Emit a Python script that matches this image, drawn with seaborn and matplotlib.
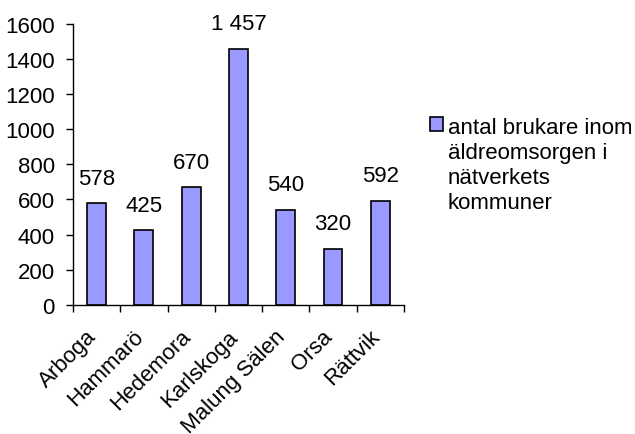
import pandas as pd
import seaborn as sns
import matplotlib.pyplot as plt
from matplotlib.transforms import ScaledTranslation

kommuner = ["Arboga", "Hammarö", "Hedemora", "Karlskoga", "Malung Sälen", "Orsa", "Rättvik"]
brukare = [578, 425, 670, 1457, 540, 320, 592]
serie_namn = "antal brukare inom\näldreomsorgen i\nnätverkets\nkommuner"

df = pd.DataFrame({"kommun": kommuner, "antal": brukare})

sns.set_style("white")
plt.rcParams["font.family"] = ["Liberation Sans", "DejaVu Sans"]
plt.rcParams["text.color"] = "black"
plt.rcParams["xtick.color"] = "black"
plt.rcParams["ytick.color"] = "black"

fs = 16
fig = plt.figure(figsize=(6.35, 4.35), dpi=100)
ax = fig.add_axes([0.115, 0.297, 0.521, 0.646])

sns.barplot(data=df, x="kommun", y="antal", color="#9999FF", edgecolor="black",
            linewidth=1.2, width=0.4, saturation=1, ax=ax, label=serie_namn)
if ax.get_legend() is not None:
    ax.get_legend().remove()

for i, v in enumerate(brukare):
    ax.annotate(f"{v:,}".replace(",", " "), (i, v), xytext=(0, 18),
                textcoords="offset points", ha="center", va="center", fontsize=fs)

ax.set_ylim(0, 1600)
ax.set_xlim(-0.5, len(kommuner) - 0.5)
ax.set_yticks(range(0, 1601, 200))
ax.set_xticks([i - 0.5 for i in range(len(kommuner) + 1)], minor=True)
ax.set_xticks(range(len(kommuner)))
ax.set_xticklabels(kommuner, rotation=45, ha="right", rotation_mode="anchor", fontsize=fs)
ax.tick_params(axis="y", labelsize=fs, length=5, width=1, left=True, direction="out", pad=8)
ax.tick_params(axis="x", which="major", length=0, pad=15)
ax.tick_params(axis="x", which="minor", length=5, width=1, bottom=True, direction="out")
shift = ScaledTranslation(-11 / 100, 0, fig.dpi_scale_trans)
for lbl in ax.get_xticklabels():
    lbl.set_transform(lbl.get_transform() + shift)
ax.set_xlabel("")
ax.set_ylabel("")
for s in ["top", "right"]:
    ax.spines[s].set_visible(False)
for s in ["left", "bottom"]:
    ax.spines[s].set_color("black")
    ax.spines[s].set_linewidth(1)

handles, labels = ax.get_legend_handles_labels()
leg = fig.legend(handles, labels, loc="upper left", bbox_to_anchor=(0.677, 0.728),
                 frameon=False, fontsize=fs, handlelength=0.6, handleheight=0.6,
                 handletextpad=0.2, borderaxespad=0, borderpad=0)
for col in leg._legend_handle_box.get_children():
    for row in col.get_children():
        row.align = "top"
for t in leg.get_texts():
    t.set_linespacing(1.25)
    t.set_color("black")

plt.savefig("out.png", dpi=100)
